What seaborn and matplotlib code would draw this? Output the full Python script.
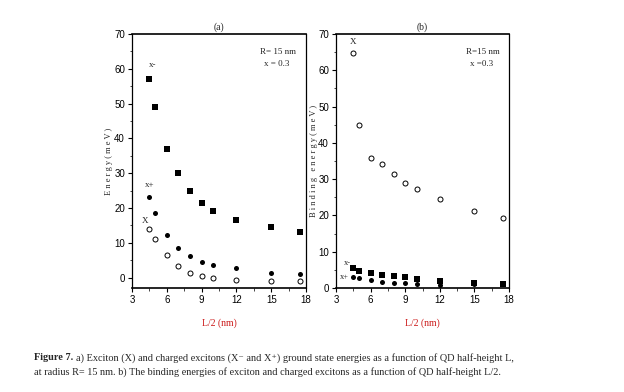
import matplotlib
matplotlib.use("Agg")
import matplotlib.pyplot as plt
import seaborn as sns
import pandas as pd
from matplotlib.ticker import MultipleLocator

# ---- data ----
L_half = [4.5, 5, 6, 7, 8, 9, 10, 12, 15, 17.5]

# (a) ground state energies (meV)
E_Xminus = [57.0, 49.0, 37.0, 30.0, 25.0, 21.5, 19.2, 16.4, 14.6, 13.0]
E_Xplus = [23.2, 18.5, 12.2, 8.4, 6.1, 4.6, 3.5, 2.8, 1.4, 1.1]
E_X = [14.0, 11.0, 6.4, 3.4, 1.4, 0.5, -0.2, -0.8, -1.1, -1.1]

# (b) binding energies (meV)
B_X = [64.9, 44.8, 35.9, 34.1, 31.3, 28.8, 27.3, 24.4, 21.3, 19.4]
B_Xminus = [5.4, 4.7, 4.0, 3.7, 3.3, 2.9, 2.5, 2.0, 1.3, 1.0]
B_Xplus = [3.0, 2.7, 2.2, 1.7, 1.5, 1.3, 1.0, 0.9, 1.0, 1.4]

x_ticks = [3, 6, 9, 12, 15, 18]
y_ticks = [0, 10, 20, 30, 40, 50, 60, 70]

sns.set_theme(style="white")
plt.rcParams['font.family'] = ['Liberation Sans', 'DejaVu Sans']

fig = plt.figure(figsize=(6.24, 3.92), dpi=100)
ax1 = fig.add_axes([132/624, 1-288/392, 174/624, 254/392])
ax2 = fig.add_axes([336/624, 1-288/392, 173/624, 254/392])

serif = ['Liberation Serif', 'DejaVu Serif']

def mk(x, y):
    return pd.DataFrame({"x": x, "y": y})

SQ, FC, OC = 17, 13, 13

# panel a
sns.scatterplot(data=mk(L_half, E_Xminus), x="x", y="y", ax=ax1, marker="s",
                color="black", s=SQ, linewidth=0)
sns.scatterplot(data=mk(L_half, E_Xplus), x="x", y="y", ax=ax1, marker="o",
                color="black", s=FC, linewidth=0)
sns.scatterplot(data=mk(L_half, E_X), x="x", y="y", ax=ax1, marker="o",
                facecolor="white", edgecolor="black", s=OC, linewidth=0.7)
ax1.set_ylim(-3, 70)

# panel b
sns.scatterplot(data=mk(L_half, B_X), x="x", y="y", ax=ax2, marker="o",
                facecolor="white", edgecolor="black", s=OC, linewidth=0.7)
sns.scatterplot(data=mk(L_half, B_Xminus), x="x", y="y", ax=ax2, marker="s",
                color="black", s=SQ, linewidth=0)
sns.scatterplot(data=mk(L_half, B_Xplus), x="x", y="y", ax=ax2, marker="o",
                color="black", s=FC, linewidth=0)
ax2.set_ylim(0, 70)

for ax in (ax1, ax2):
    ax.set_xlim(3, 18)
    ax.set_xticks(x_ticks)
    ax.set_yticks(y_ticks)
    ax.xaxis.set_minor_locator(MultipleLocator(1.5))
    ax.yaxis.set_minor_locator(MultipleLocator(5))
    ax.tick_params(which="major", direction="out", length=3, width=0.8,
                   labelsize=7, pad=2, bottom=True, left=True, colors="black")
    ax.tick_params(which="minor", direction="out", length=1.8, width=0.6,
                   bottom=True, left=True)
    for side, sp in ax.spines.items():
        sp.set_visible(True)
        sp.set_color("black")
        sp.set_linewidth(1.2 if side in ("top", "bottom") else 0.9)
    ax.set_xlabel("L/2 (nm)", color="#cc1a1a", fontsize=7, family=serif,
                  labelpad=10)
    ax.grid(False)

ax1.set_ylabel("E n e r g y ( m e V )", fontsize=6, family=serif, labelpad=1)
ax2.set_ylabel("B i n d i n g   e n e r g y ( m e V )", fontsize=6,
               family=serif, labelpad=0)
ax1.set_title("(a)", fontsize=7, family=serif, pad=3)
ax2.set_title("(b)", fontsize=7, family=serif, pad=3)

# annotations panel a
ax1.text(0.84, 0.93, "R= 15 nm", transform=ax1.transAxes, fontsize=6.5,
         family=serif, ha="center", va="center")
ax1.text(0.83, 0.88, "x = 0.3", transform=ax1.transAxes, fontsize=6.5,
         family=serif, ha="center", va="center")
ax1.text(4.8, 61.0, "x-", fontsize=6.5, family=serif, ha="center", va="center")
ax1.text(4.5, 26.7, "x+", fontsize=6.5, family=serif, ha="center", va="center")
ax1.text(4.1, 16.3, "X", fontsize=6.5, family=serif, ha="center", va="center")

# annotations panel b
ax2.text(0.85, 0.93, "R=15 nm", transform=ax2.transAxes, fontsize=6.5,
         family=serif, ha="center", va="center")
ax2.text(0.84, 0.88, "x =0.3", transform=ax2.transAxes, fontsize=6.5,
         family=serif, ha="center", va="center")
ax2.text(4.5, 67.8, "X", fontsize=6.5, family=serif, ha="center", va="center")
ax2.text(4.0, 7.0, "x-", fontsize=6, family=serif, ha="center", va="center")
ax2.text(3.7, 3.1, "x+", fontsize=6, family=serif, ha="center", va="center")

# caption
cap_fs = 7.4
t_bold = fig.text(34/624, 1-358/392, "Figure 7.", fontsize=cap_fs,
                  family=serif, weight="bold", ha="left", va="center")
fig.canvas.draw()
bb = t_bold.get_window_extent(renderer=fig.canvas.get_renderer())
fig.text((bb.x1 + 3)/624, 1-358/392,
         "a) Exciton (X) and charged excitons (X\u207b and X\u207a) ground state energies as a function of QD half-height L,",
         fontsize=cap_fs, family=serif, ha="left", va="center")
fig.text(34/624, 1-372/392,
         "at radius R= 15 nm. b) The binding energies of exciton and charged excitons as a function of QD half-height L/2.",
         fontsize=cap_fs, family=serif, ha="left", va="center")

fig.savefig("out.png", dpi=100, facecolor="white")
